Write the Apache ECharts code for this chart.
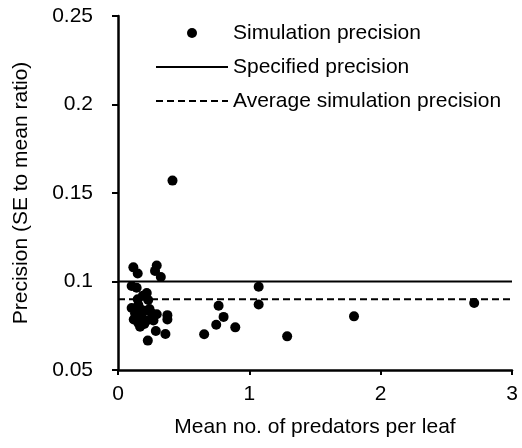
<!DOCTYPE html>
<html>
<head>
<meta charset="utf-8">
<script src="https://cdn.jsdelivr.net/npm/echarts@6/dist/echarts.min.js"></script>
<style>html,body{margin:0;padding:0;background:#fff}#c{width:522px;height:448px}</style>
</head>
<body>
<div id="c"></div>
<script>
// Mean no. of predators per leaf
const meanPredators = [0.415,0.117,0.150,0.295,0.282,0.326,0.104,0.142,0.219,0.19,0.23,0.104,0.155,0.13,0.18,0.22,0.155,0.168,0.257,0.295,0.376,0.376,0.288,0.361,0.227,0.656,0.766,0.804,0.748,0.893,1.071,1.071,1.288,1.797,2.712,0.14,0.20,0.24,0.17,0.12,0.27,0.2,0.15,0.185];
// Simulation precision (SE to mean ratio)
const simPrecision = [0.157,0.108,0.1045,0.109,0.106,0.1025,0.0975,0.0965,0.0935,0.092,0.0895,0.085,0.0867,0.082,0.080,0.078,0.0765,0.0745,0.082,0.0815,0.081,0.0786,0.072,0.0703,0.0666,0.0702,0.0863,0.080,0.0756,0.0741,0.097,0.087,0.069,0.0803,0.0879,0.079,0.0835,0.0845,0.0845,0.0785,0.078,0.076,0.090,0.0775];
const specifiedPrecision = 0.1;
const averagePrecision = 0.09;
const xTicks = [0, 3];
const yTicks = [0.05, 0.25];
const seriesNames = ['Simulation precision', 'Specified precision', 'Average simulation precision'];

const font = '"Liberation Sans", Arial, sans-serif';
const chart = echarts.init(document.getElementById('c'), null, {renderer: 'canvas'});
chart.setOption({
  animation: false,
  backgroundColor: '#fff',
  grid: {left: 118, right: 10, top: 16, bottom: 78, containLabel: false},
  legend: {
    orient: 'vertical', left: 155, top: 21, padding: 0,
    itemWidth: 72, itemHeight: 10, itemGap: 10,
    textStyle: {fontFamily: font, fontSize: 21, color: '#000', lineHeight: 24},
    data: [
      {name: seriesNames[0]},
      {name: seriesNames[1], itemStyle: {opacity: 0}},
      {name: seriesNames[2], itemStyle: {opacity: 0}}
    ]
  },
  xAxis: {
    type: 'value', min: xTicks[0], max: xTicks[1], interval: 1,
    name: 'Mean no. of predators per leaf', nameLocation: 'middle', nameGap: 47,
    nameTextStyle: {fontFamily: font, fontSize: 21, color: '#000'},
    axisLine: {lineStyle: {color: '#000', width: 2.5}},
    axisTick: {show: true, length: 5, lineStyle: {color: '#000', width: 2}},
    axisLabel: {fontFamily: font, fontSize: 21, color: '#000', margin: 14},
    splitLine: {show: false}
  },
  yAxis: {
    type: 'value', min: yTicks[0], max: yTicks[1], interval: 0.05,
    name: 'Precision (SE to mean ratio)', nameLocation: 'middle', nameGap: 86,
    nameTextStyle: {fontFamily: font, fontSize: 21, color: '#000'},
    axisLine: {show: true, lineStyle: {color: '#000', width: 2.5}},
    axisTick: {show: true, length: 6, lineStyle: {color: '#000', width: 2}},
    axisLabel: {fontFamily: font, fontSize: 21, color: '#000', margin: 25,
      formatter: v => String(Math.round(v * 100) / 100)},
    splitLine: {show: false}
  },
  series: [
    {
      name: seriesNames[0], type: 'scatter', symbol: 'circle', symbolSize: 10,
      itemStyle: {color: '#000', opacity: 1},
      data: meanPredators.map((x, i) => [x, simPrecision[i]]), z: 3
    },
    {
      name: seriesNames[1], type: 'line', symbol: 'none',
      lineStyle: {color: '#000', width: 2, type: 'solid'}, itemStyle: {color: '#000'},
      data: [[xTicks[0], specifiedPrecision], [xTicks[1], specifiedPrecision]], z: 2
    },
    {
      name: seriesNames[2], type: 'line', symbol: 'none',
      lineStyle: {color: '#000', width: 2, type: [7, 4]}, itemStyle: {color: '#000'},
      data: [[xTicks[0], averagePrecision], [xTicks[1], averagePrecision]], z: 2
    }
  ]
});
</script>
</body>
</html>
